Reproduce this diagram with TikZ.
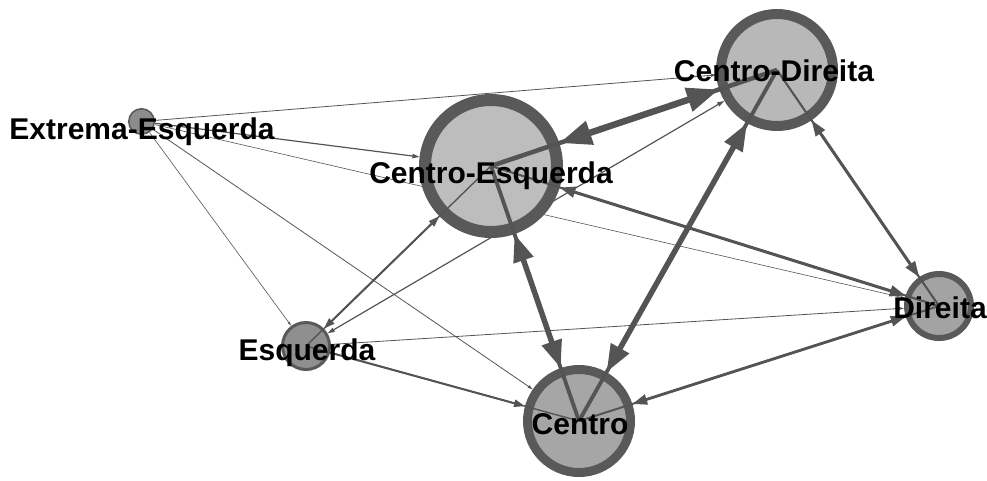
\documentclass[tikz,border=0pt]{standalone}
\usepackage{fontspec}
\setmainfont{Liberation Sans}
\usetikzlibrary{arrows.meta,backgrounds}
\tikzstyle{vertex}=[circle,draw=black!65,inner sep=0pt]
\tikzstyle{edge}=[draw,black!67]
\tikzstyle{tag}=[anchor=base,inner sep=0pt,font=\fontsize{30}{36}\selectfont\bfseries]

\begin{document}
\begin{tikzpicture}[x=1pt,y=-1pt,>={Triangle[length=1.5pt 4.75,width=0pt 3.6]}]
  \useasboundingbox (0,0) rectangle (987,480);
  % First we draw the parties as circles
  \foreach \pos/\name/\size/\ring/\shade in {{(141.5,121.5)/EE/25.5/1.5/45}, {(306,346)/Es/47/3/44}, {(491,166)/CE/132/12/26}, {(777,70)/CD/112/10/28}, {(579,421)/Ce/103/9/35}, {(939,306)/Di/64/6/36}}
    \node[vertex, minimum size=\size pt, line width=\ring pt, fill=black!\shade] (\name) at \pos {};

  % Weak links run under the circles
  \begin{scope}[on background layer]
  \foreach \source/\dest/\weight/\tip in {EE/CD/0.8/->, EE/CE/1.2/->, EE/Di/0.6/->, EE/Ce/0.8/->, EE/Es/0.6/->, Es/CD/1.2/<->, Es/Di/0.8/->}
    \path[edge, line width=\weight pt, \tip] (\source) -- (\dest);
  \end{scope}

  % Strong links start from the centres
  \foreach \source/\dest/\weight/\tip in {CE/CD/6.5/<->, CE/Ce/5.5/<->, CD/Ce/5.5/<->, CD/Di/3/<->, CE/Di/3/<->, Ce/Di/2.8/<->, Es/Ce/2/->, CE/Es/2/<->}{
    \path[edge, line width=0.7*\weight pt] (\source.center) -- (\dest.center);
    \path[edge, line width=\weight pt, \tip] (\source) -- (\dest);
  }

  % Party names on top
  \foreach \pos/\name/\party in {{(142,139)/EE/Extrema-Esquerda}, {(307,360)/Es/Esquerda}, {(491,183)/CE/Centro-Esquerda}, {(774,81)/CD/Centro-Direita}, {(580,434)/Ce/Centro}, {(940,318)/Di/Direita}}
    \node[tag] (t\name) at \pos {\party};
\end{tikzpicture}
\end{document}
